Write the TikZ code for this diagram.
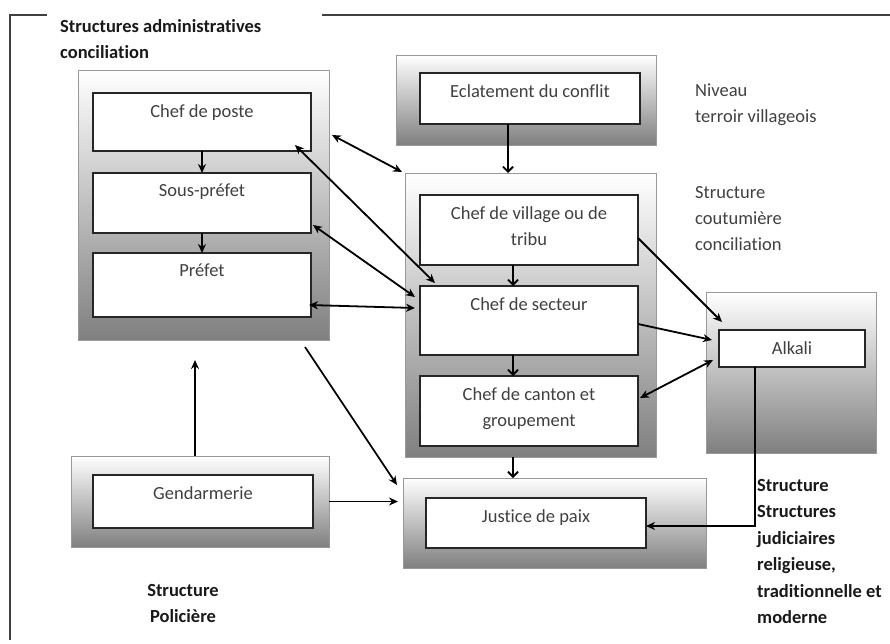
\documentclass[tikz,border=0pt]{standalone}
\usepackage{fontspec}
\setmainfont{Carlito}[Ligatures=CommonOff]
\usetikzlibrary{arrows.meta,positioning}
\tikzset{
  outbox/.style={draw=black!40, top color=white, bottom color=black!50, inner sep=0pt, outer sep=0pt},
  inbox/.style ={draw=black!85, line width=1.9pt, fill=white, inner sep=0pt, outer sep=0pt},
  lbl/.style   ={font=\fontsize{18.5}{26}\selectfont, text=black!75, align=center, inner sep=0pt},
  note/.style  ={font=\fontsize{18.5}{26}\selectfont, text=black!75, align=left, inner sep=0pt},
  bnote/.style ={font=\fontsize{18.5}{26.5}\selectfont\bfseries, text=black!90, align=left, inner sep=0pt},
  arr/.style   ={-{Stealth[length=9pt,width=8pt]}, line width=1.8pt},
  darr/.style  ={{Stealth[length=9pt,width=8pt]}-{Stealth[length=9pt,width=8pt]}, line width=1.8pt},
  varr/.style  ={-{Straight Barb[length=5pt,width=10pt]}, line width=1.8pt},
}

\begin{document}
\begin{tikzpicture}[x=1pt, y=-1pt]
  \useasboundingbox (0,0) rectangle (890,643);
  % frame
  \draw[black!75, line width=2.5pt] (47,15) -- (10,15) -- (10,640);
  \draw[black!75, line width=2.5pt] (322,15) -- (890,15);
  \node[bnote, anchor=north west] (tadm) at (60,19) {Structures administratives\\conciliation};

  % --- administrative column ---
  \node[outbox, minimum width=251, minimum height=270] (admout) at (203.5,205) {};
  \node[inbox, minimum width=218, minimum height=58] (poste) at (202,122) {};
  \node[inbox, minimum width=218, minimum height=60] (souspref) at (202,203) {};
  \node[inbox, minimum width=218, minimum height=64] (prefet) at (202,285) {};
  \node[lbl, below=11pt of poste.north] (tposte) {Chef de poste};
  \node[lbl, below=11pt of souspref.north] (tsouspref) {Sous-préfet};
  \node[lbl, below=11pt of prefet.north] (tprefet) {Préfet};
  \draw[arr] (poste.south) -- (souspref.north);
  \draw[arr] (souspref.south) -- (prefet.north);

  % --- conflict ---
  \node[outbox, minimum width=260, minimum height=90] (eclout) at (526,100) {};
  \node[inbox, minimum width=220, minimum height=51] (eclat) at (530,98.5) {};
  \node[lbl, below=11pt of eclat.north] (teclat) {Eclatement du conflit};
  \node[note, anchor=north west] (tniv) at (695,84) {Niveau\\terroir villageois};

  % --- customary column ---
  \node[outbox, minimum width=251, minimum height=284] (coutume) at (530.5,315) {};
  \node[inbox, minimum width=218, minimum height=70] (village) at (529,230) {};
  \node[inbox, minimum width=218, minimum height=69] (secteur) at (529,320.5) {};
  \node[inbox, minimum width=218, minimum height=70] (canton) at (529,411) {};
  \node[lbl, below=11pt of village.north] (tvillage) {Chef de village ou de\\tribu};
  \node[lbl, below=11pt of secteur.north] (tsecteur) {Chef de secteur};
  \node[lbl, below=11pt of canton.north] (tcanton) {Chef de canton et\\groupement};
  \node[note, anchor=north west] (tcout) at (695,186) {Structure\\coutumière\\conciliation};
  \coordinate (ex) at (508,0);
  \coordinate (cx) at (513,0);
  \draw[varr] (eclat.south -| ex) -- (coutume.north -| ex);
  \draw[varr] (village.south -| cx) -- (secteur.north -| cx);
  \draw[varr] (secteur.south -| cx) -- (canton.north -| cx);

  % --- alkali ---
  \node[outbox, minimum width=170, minimum height=161] (alkout) at (791,372.5) {};
  \node[inbox, minimum width=146, minimum height=37] (alkin) at (792,348.5) {};
  \node[lbl] (talk) at (alkin) {Alkali};

  % --- justice & police ---
  \node[outbox, minimum width=303, minimum height=90] (justout) at (554.5,523) {};
  \node[inbox, minimum width=220, minimum height=50] (justin) at (536,523) {};
  \node[lbl, below=11pt of justin.north] (tjust) {Justice de paix};
  \node[outbox, minimum width=258, minimum height=91] (gendout) at (200,501.5) {};
  \node[inbox, minimum width=220, minimum height=53] (gendin) at (203,501.5) {};
  \node[lbl, below=11pt of gendin.north] (tgend) {Gendarmerie};
  \node[bnote, align=center, anchor=north] (tpol) at (183,584) {Structure\\Policière};
  \node[bnote, anchor=north west] (tjud) at (757,479)
    {Structure\\Structures\\judiciaires\\religieuse,\\traditionnelle et\\moderne};
  \draw[varr] (coutume.south -| cx) -- (justout.north -| cx);

  % --- links ---
  \coordinate (gup) at (195,360);
  \coordinate (jx) at (755,526);
  \draw[arr] (gendout.north -| gup) -- (gup);
  \draw[arr] (gendout.east) -- ([xshift=-5pt]gendout.east -| justout.west);
  \draw[arr] ([shift={(-24pt,-7pt)}]admout.south east) -- ([shift={(-6pt,-7pt)}]justout.north west);
  \draw[darr] ([shift={(3pt,-65pt)}]admout.north east) -- ([shift={(-3pt,1pt)}]coutume.north west);
  \draw[darr] ([shift={(-16pt,6pt)}]poste.south east) -- ([shift={(15pt,3pt)}]secteur.north west);
  \draw[darr] ([shift={(2pt,-22pt)}]souspref.east) -- ([shift={(-5pt,23.5pt)}]secteur.west);
  \draw[darr] ([shift={(-2pt,-20pt)}]prefet.east) -- ([shift={(-5pt,12.5pt)}]secteur.west);
  \draw[arr] ([yshift=-8pt]village.east) -- ([shift={(3pt,8pt)}]alkin.north west);
  \draw[arr] ([yshift=-3.5pt]secteur.east) -- ([shift={(-7pt,8.5pt)}]alkin.west);
  \draw[darr] ([shift={(-6pt,-11.5pt)}]alkin.west) -- ([shift={(2pt,13pt)}]canton.east);
  \draw[arr, line width=1.4pt] (alkin.south -| jx) -- (jx) -- (jx -| justin.east);
\end{tikzpicture}
\end{document}
